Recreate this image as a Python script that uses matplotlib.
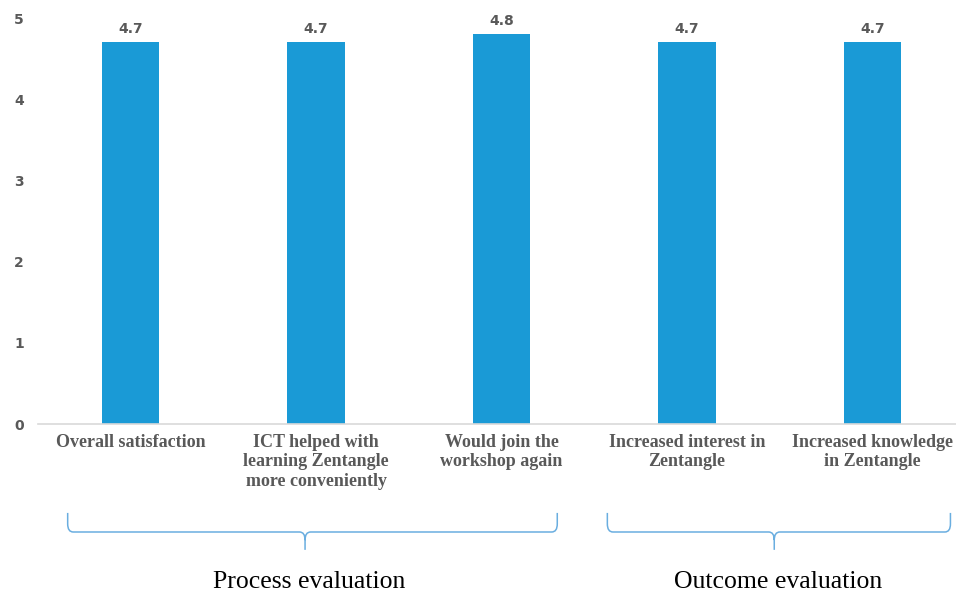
import matplotlib.pyplot as plt
from matplotlib.path import Path
from matplotlib.patches import PathPatch
from matplotlib.transforms import blended_transform_factory

# Data
categories = ["Overall satisfaction",
              "ICT helped with\nlearning Zentangle\nmore conveniently",
              "Would join the\nworkshop again",
              "Increased interest in\nZentangle",
              "Increased knowledge\nin Zentangle"]
scores = [4.7, 4.7, 4.8, 4.7, 4.7]
groups = ["Process evaluation", "Outcome evaluation"]

bar_color = "#1a9ad6"
brace_color = "#6aaee0"
text_gray = "#595959"

fig = plt.figure(figsize=(9.56, 5.93), dpi=100)
ax = fig.add_axes([38 / 956, 169 / 593, 918 / 956, 406 / 593])

x = list(range(len(categories)))
ax.bar(x, scores, width=0.31, color=bar_color, zorder=2)

# Value labels
for xi, v in zip(x, scores):
    ax.text(xi, v + 0.08, f"{v:.1f}", ha="center", va="bottom",
            fontsize=10, fontweight="bold", color=text_gray, family="DejaVu Sans")

ax.set_xlim(-0.5, 4.45)
ax.set_ylim(0, 5)
ax.set_yticks([0, 1, 2, 3, 4, 5])
ax.set_yticklabels(["0", "1", "2", "3", "4", "5"], fontsize=10,
                   fontweight="bold", color=text_gray)
ax.tick_params(axis="y", length=0, pad=10)

ax.set_xticks(x)
ax.set_xticklabels(categories, fontsize=13, fontweight="bold",
                   color=text_gray, family="Liberation Serif", linespacing=1.2)
ax.tick_params(axis="x", length=0, pad=7)

for s in ["top", "right", "left"]:
    ax.spines[s].set_visible(False)
ax.spines["bottom"].set_color("#d9d9d9")
ax.spines["bottom"].set_linewidth(1.2)

# Braces below the categories
trans = blended_transform_factory(ax.transData, ax.transAxes)
y_top, y_mid, y_bot = -0.219, -0.266, -0.31
brace_bounds = [(-0.34, 0.94, 2.30), (2.57, 3.47, 4.42)]
for (x0, xt, x1), name in zip(brace_bounds, groups):
    r = 0.03
    ry = 0.02
    verts = [(x0, y_top), (x0, y_mid + ry), (x0, y_mid), (x0 + r, y_mid),
             (xt - r, y_mid), (xt, y_mid), (xt, y_mid - ry), (xt, y_bot),
             (xt, y_mid - ry), (xt, y_mid), (xt + r, y_mid),
             (x1 - r, y_mid), (x1, y_mid), (x1, y_mid + ry), (x1, y_top)]
    codes = [Path.MOVETO, Path.LINETO, Path.CURVE3, Path.CURVE3,
             Path.LINETO, Path.CURVE3, Path.CURVE3, Path.LINETO,
             Path.MOVETO, Path.CURVE3, Path.CURVE3,
             Path.LINETO, Path.CURVE3, Path.CURVE3, Path.LINETO]
    patch = PathPatch(Path(verts, codes), transform=trans, fill=False,
                      edgecolor=brace_color, linewidth=1.1, clip_on=False)
    ax.add_patch(patch)
    ax.text(xt + 0.02, -0.39, name, transform=trans, ha="center", va="center",
            fontsize=18.5, family="Liberation Serif", color="black")

plt.savefig("out.png", dpi=100)
